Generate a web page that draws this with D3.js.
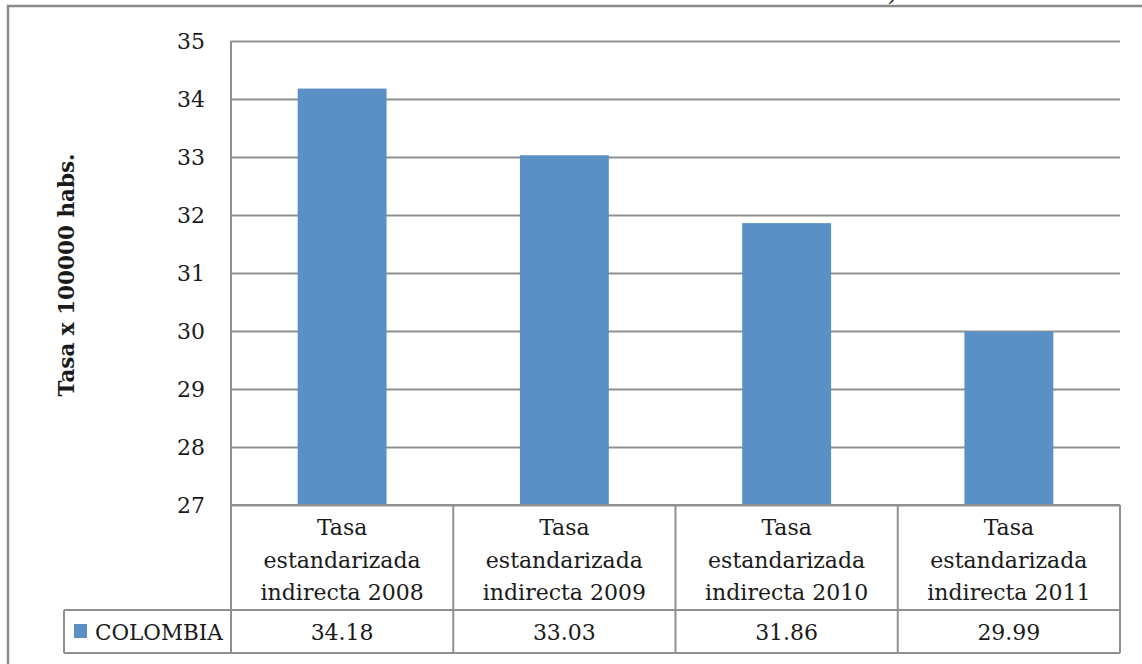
<!DOCTYPE html>
<html>
<head>
<meta charset="utf-8">
<script src="https://cdn.jsdelivr.net/npm/d3@7"></script>
<style>
  html, body { margin: 0; padding: 0; background: #fff; }
  svg { display: block; }
  text { font-family: "DejaVu Serif", "Liberation Serif", serif; fill: #1a1a1a; }
</style>
</head>
<body>
<svg id="chart" width="1142" height="664"></svg>
<script>
// Indirect standardized rate per 100000 inhabitants, Colombia
const categories = ["2008", "2009", "2010", "2011"];
const categoryLines = [
  ["Tasa", "estandarizada", "indirecta 2008"],
  ["Tasa", "estandarizada", "indirecta 2009"],
  ["Tasa", "estandarizada", "indirecta 2010"],
  ["Tasa", "estandarizada", "indirecta 2011"]
];
const seriesName = "COLOMBIA";
const seriesValues = [34.18, 33.03, 31.86, 29.99];
const yTicks = [27, 28, 29, 30, 31, 32, 33, 34, 35];
const yTitle = "Tasa x 100000 habs.";

const svg = d3.select("#chart");
const gridColor = "#8f8f8f";
const barColor = "#5b90c6";

const plot = { left: 231, right: 1120, top: 41, bottom: 505 };
const table = { labelBottom: 610, bottom: 653, legendLeft: 64 };

const x = d3.scaleBand().domain(categories).range([plot.left, plot.right]).padding(0);
const y = d3.scaleLinear().domain([27, 35]).range([plot.bottom, plot.top]);

// Outer chart frame
svg.append("rect")
  .attr("x", 8).attr("y", 6).attr("width", 1160).attr("height", 700)
  .attr("fill", "none").attr("stroke", "#8a8a8a").attr("stroke-width", 2.5);

// Closing parenthesis of the line above the chart
svg.append("text")
  .attr("x", 889).attr("y", 1)
  .attr("font-size", 22).attr("font-style", "italic")
  .text(")");

// Horizontal gridlines via the y axis
const yAxis = d3.axisLeft(y).tickValues(yTicks).tickSize(-(plot.right - plot.left)).tickFormat(d3.format("d")).tickPadding(26);
const gy = svg.append("g").attr("transform", `translate(${plot.left},0)`).call(yAxis);
gy.select(".domain").remove();
gy.selectAll(".tick line").attr("stroke", gridColor).attr("stroke-width", 2);
gy.selectAll(".tick text")
  .attr("font-size", 22)
  .attr("font-family", "DejaVu Serif, serif")
  .attr("fill", "#1a1a1a")
  .attr("dy", "0.36em");

// Bars
const barW = x.bandwidth() * 0.4;
svg.append("g").selectAll("rect")
  .data(seriesValues)
  .join("rect")
  .attr("x", (d, i) => x(categories[i]) + (x.bandwidth() - barW) / 2)
  .attr("y", d => y(d))
  .attr("width", barW)
  .attr("height", d => y(27) - y(d))
  .attr("fill", barColor);

// Left axis line
svg.append("line")
  .attr("x1", plot.left).attr("x2", plot.left)
  .attr("y1", plot.top).attr("y2", table.bottom)
  .attr("stroke", gridColor).attr("stroke-width", 2);

// Data table lines
const tbl = svg.append("g").attr("stroke", gridColor).attr("stroke-width", 2).attr("fill", "none");
tbl.append("line").attr("x1", plot.left).attr("x2", plot.right).attr("y1", plot.bottom).attr("y2", plot.bottom);
tbl.append("line").attr("x1", table.legendLeft).attr("x2", plot.right).attr("y1", table.labelBottom).attr("y2", table.labelBottom);
tbl.append("line").attr("x1", table.legendLeft).attr("x2", plot.right).attr("y1", table.bottom).attr("y2", table.bottom);
tbl.append("line").attr("x1", table.legendLeft).attr("x2", table.legendLeft).attr("y1", table.labelBottom).attr("y2", table.bottom);
categories.forEach(c => {
  const xr = x(c) + x.bandwidth();
  tbl.append("line").attr("x1", xr).attr("x2", xr).attr("y1", plot.bottom).attr("y2", table.bottom);
});

// Category labels
const lineH = 32.5;
categories.forEach((c, i) => {
  const cx = x(c) + x.bandwidth() / 2;
  const t = svg.append("text")
    .attr("text-anchor", "middle")
    .attr("font-size", 22);
  categoryLines[i].forEach((ln, j) => {
    t.append("tspan").attr("x", cx).attr("y", 535 + j * lineH).text(ln);
  });
});

// Values row
svg.append("g").selectAll("text")
  .data(seriesValues)
  .join("text")
  .attr("x", (d, i) => x(categories[i]) + x.bandwidth() / 2)
  .attr("y", 640)
  .attr("text-anchor", "middle")
  .attr("font-size", 22)
  .text(d => d3.format(".2f")(d));

// Legend key
svg.append("rect")
  .attr("x", 74).attr("y", 624).attr("width", 13).attr("height", 14)
  .attr("fill", barColor);
svg.append("text")
  .attr("x", 95).attr("y", 640)
  .attr("font-size", 21.5)
  .text(seriesName);

// Y axis title
svg.append("text")
  .attr("transform", `translate(74,275) rotate(-90)`)
  .attr("text-anchor", "middle")
  .attr("font-size", 21.5)
  .attr("font-weight", "bold")
  .text(yTitle);
</script>
</body>
</html>
